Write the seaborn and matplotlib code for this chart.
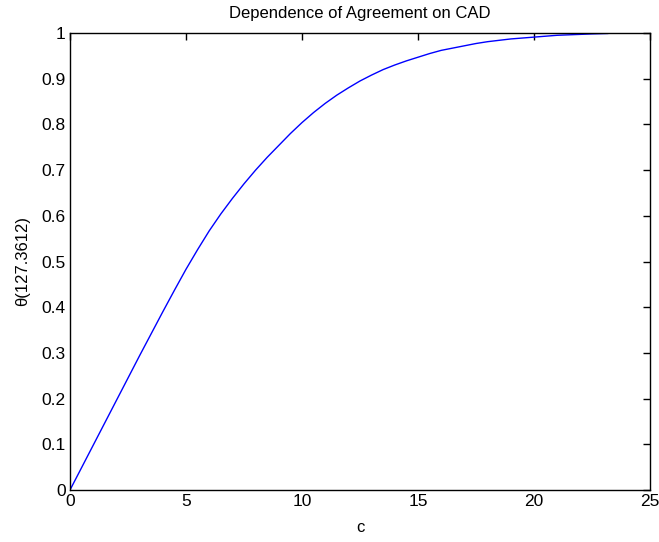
import matplotlib
matplotlib.use("Agg")
import matplotlib.pyplot as plt
import seaborn as sns
import pandas as pd

c_values = [0, 0.5, 1, 1.5, 2, 2.5, 3, 3.5, 4, 4.5, 5, 5.5, 6, 6.5, 7, 7.5, 8, 8.5, 9, 9.5,
            10, 10.5, 11, 11.5, 12, 12.5, 13, 13.5, 14, 14.5, 15, 15.5, 16, 16.5, 17, 17.5,
            18, 18.5, 19, 19.5, 20, 20.5, 21, 21.5, 22, 22.5, 23.2]
theta_values = [0.0, 0.049, 0.098, 0.147, 0.196, 0.245, 0.294, 0.342, 0.39, 0.437, 0.483, 0.526,
                0.567, 0.604, 0.638, 0.67, 0.70, 0.728, 0.754, 0.78, 0.804, 0.826, 0.846, 0.864,
                0.88, 0.895, 0.908, 0.92, 0.93, 0.939, 0.947, 0.955, 0.962, 0.967, 0.972, 0.977,
                0.981, 0.984, 0.987, 0.989, 0.991, 0.993, 0.995, 0.996, 0.997, 0.998, 0.999]
x_ticks = [0, 5, 10, 15, 20, 25]
y_ticks = [0, 0.1, 0.2, 0.3, 0.4, 0.5, 0.6, 0.7, 0.8, 0.9, 1]
y_tick_labels = ["0", "0.1", "0.2", "0.3", "0.4", "0.5", "0.6", "0.7", "0.8", "0.9", "1"]

sns.set_theme(style="white")
plt.rcParams["font.family"] = ["Liberation Sans", "DejaVu Sans"]

df = pd.DataFrame({"c": c_values, "theta": theta_values})

fig = plt.figure(figsize=(6.59, 5.42), dpi=100)
ax = fig.add_axes([70 / 659, 52 / 542, 580 / 659, 457 / 542])
sns.lineplot(data=df, x="c", y="theta", color=(0, 0, 1), linewidth=1.0, ax=ax)

ax.set_xlim(0, 25)
ax.set_ylim(0, 1)
ax.set_xticks(x_ticks)
ax.set_xticklabels([str(t) for t in x_ticks])
ax.set_yticks(y_ticks)
ax.set_yticklabels(y_tick_labels)
ax.tick_params(direction="in", length=5, width=1, color="black", labelsize=12.5,
               top=True, right=True, labelcolor="black", pad=3)
for s in ax.spines.values():
    s.set_visible(True)
    s.set_color("black")
    s.set_linewidth(1)
ax.set_xlabel("c", fontsize=12, color="black", labelpad=8)
ax.set_ylabel("θ(127.3612)", fontsize=12, color="black", labelpad=8)
ax.set_title("Dependence of Agreement on CAD", fontsize=12, color="black", pad=11)

fig.savefig("out.png", dpi=100, facecolor="white")
